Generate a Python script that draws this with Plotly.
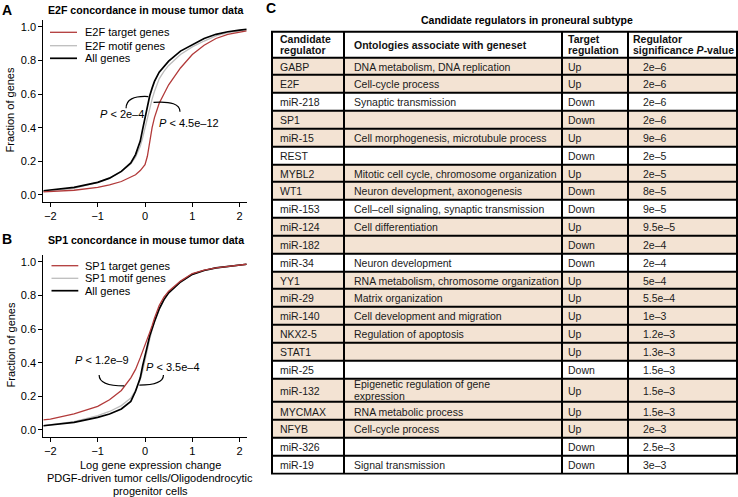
import plotly.graph_objects as go

W, H = 738, 497
FONT = "Liberation Sans, Arial, sans-serif"

# ---------------- data: panels A and B (cumulative fractions) ----------------
x_change = [-2.15, -2.0, -1.5, -1.0, -0.75, -0.5, -0.3, -0.2, -0.1, -0.05, 0.0, 0.05,
            0.1, 0.15, 0.2, 0.3, 0.4, 0.5, 0.75, 1.0, 1.25, 1.5, 1.75, 2.0, 2.15]

e2f_target = [0.018, 0.02, 0.028, 0.045, 0.06, 0.08, 0.105, 0.12, 0.145, 0.16, 0.18, 0.23,
              0.33, 0.40, 0.46, 0.545, 0.60, 0.655, 0.755, 0.835, 0.89, 0.93, 0.955, 0.97, 0.975]
e2f_motif = [0.02, 0.025, 0.04, 0.075, 0.10, 0.14, 0.185, 0.225, 0.29, 0.34, 0.40, 0.46,
             0.52, 0.57, 0.615, 0.69, 0.735, 0.77, 0.835, 0.88, 0.915, 0.945, 0.965, 0.975, 0.98]
e2f_all = [0.025, 0.03, 0.045, 0.075, 0.10, 0.14, 0.19, 0.24, 0.32, 0.39, 0.46, 0.53,
           0.59, 0.635, 0.675, 0.73, 0.765, 0.795, 0.855, 0.895, 0.93, 0.955, 0.97, 0.98, 0.985]

sp1_target = [0.06, 0.065, 0.095, 0.14, 0.18, 0.235, 0.31, 0.36, 0.43, 0.465, 0.51, 0.545,
              0.58, 0.62, 0.665, 0.74, 0.79, 0.825, 0.885, 0.93, 0.95, 0.963, 0.973, 0.98, 0.985]
sp1_motif = [0.025, 0.03, 0.05, 0.085, 0.11, 0.145, 0.19, 0.235, 0.30, 0.35, 0.42, 0.48,
             0.54, 0.595, 0.64, 0.715, 0.77, 0.815, 0.88, 0.925, 0.948, 0.963, 0.973, 0.98, 0.985]
sp1_all = [0.025, 0.03, 0.045, 0.075, 0.095, 0.125, 0.17, 0.23, 0.31, 0.38, 0.45, 0.50,
           0.56, 0.605, 0.645, 0.72, 0.775, 0.815, 0.88, 0.925, 0.948, 0.963, 0.973, 0.98, 0.985]

y_ticks = [0.0, 0.2, 0.4, 0.6, 0.8, 1.0]
x_ticks = [-2, -1, 0, 1, 2]

# ---------------- data: panel C (table) ----------------
table_title = "Candidate regulators in proneural subtype"
header_labels = ["Candidate<br>regulator", "Ontologies associate with geneset",
                 "Target<br>regulation", "Regulator<br>significance <i>P</i>-value"]
regulators = ["GABP", "E2F", "miR-218", "SP1", "miR-15", "REST", "MYBL2", "WT1", "miR-153",
              "miR-124", "miR-182", "miR-34", "YY1", "miR-29", "miR-140", "NKX2-5", "STAT1",
              "miR-25", "miR-132", "MYCMAX", "NFYB", "miR-326", "miR-19"]
ontologies = ["DNA metabolism, DNA replication", "Cell-cycle process", "Synaptic transmission", "",
              "Cell morphogenesis, microtubule process", "",
              "Mitotic cell cycle, chromosome organization", "Neuron development, axonogenesis",
              "Cell\u2013cell signaling, synaptic transmission", "Cell differentiation", "",
              "Neuron development", "RNA metabolism, chromosome organization", "Matrix organization",
              "Cell development and migration", "Regulation of apoptosis", "", "",
              "Epigenetic regulation of gene<br>expression", "RNA metabolic process",
              "Cell-cycle process", "", "Signal transmission"]
regulation = ["Up", "Up", "Down", "Down", "Up", "Down", "Up", "Down", "Down", "Up", "Down", "Down",
              "Up", "Up", "Up", "Up", "Up", "Down", "Up", "Up", "Up", "Down", "Down"]
p_values = ["2e\u20136", "2e\u20136", "2e\u20136", "2e\u20136", "9e\u20136", "2e\u20135", "2e\u20135",
            "8e\u20135", "9e\u20135", "9.5e\u20135", "2e\u20134", "2e\u20134", "5e\u20134", "5.5e\u20134",
            "1e\u20133", "1.2e\u20133", "1.3e\u20133", "1.5e\u20133", "1.5e\u20133", "1.5e\u20133",
            "2e\u20133", "2.5e\u20133", "3e\u20133"]
highlighted = [1, 1, 0, 1, 1, 0, 1, 1, 0, 1, 1, 0, 1, 1, 1, 1, 1, 0, 1, 1, 1, 0, 0]

# ---------------- styles / layout constants ----------------
RED, GREY, BLACK = "#B23A3A", "#BDBDBD", "#000000"
BEIGE = "#F3E3D3"


def pxx(px):
    return px / W


def pxy(py):
    return 1 - py / H


fig = go.Figure()

panels = [
    dict(xa="x", ya="y", target=e2f_target, motif=e2f_motif, all=e2f_all),
    dict(xa="x2", ya="y2", target=sp1_target, motif=sp1_motif, all=sp1_all),
]
for p in panels:
    fig.add_trace(go.Scatter(x=x_change, y=p["motif"], mode="lines", line=dict(color=GREY, width=1.3),
                             xaxis=p["xa"], yaxis=p["ya"], hoverinfo="skip"))
    fig.add_trace(go.Scatter(x=x_change, y=p["all"], mode="lines", line=dict(color=BLACK, width=1.7),
                             xaxis=p["xa"], yaxis=p["ya"], hoverinfo="skip"))
    fig.add_trace(go.Scatter(x=x_change, y=p["target"], mode="lines", line=dict(color=RED, width=1.3),
                             xaxis=p["xa"], yaxis=p["ya"], hoverinfo="skip"))

# ---------------- table (heatmap cells + text) ----------------
col_edges = [272, 344, 562, 628, 737]
header_top, header_h = 31.7, 25.6
row_h, extra_line_h = 17.83, 6.1
line_gap = 11.8
row_edges = [header_top, header_top + header_h]
for o in ontologies:
    n = o.count("<br>") + 1
    row_edges.append(row_edges[-1] + row_h + extra_line_h * (n - 1))

z = [[0, 0, 0, 0]] + [[h, h, h, h] for h in highlighted]
fig.add_trace(go.Heatmap(x=col_edges, y=row_edges, z=z, xaxis="x3", yaxis="y3",
                         colorscale=[[0, "#FFFFFF"], [1, BEIGE]], zmin=0, zmax=1,
                         showscale=False, xgap=2, ygap=2, hoverinfo="skip"))

# header text
hx, hy, ht = [], [], []
head_pad = [8, 10, 6, 5]
hc = header_top + header_h / 2
for j, lab in enumerate(header_labels):
    lines = lab.split("<br>")
    n = len(lines)
    for k, ln in enumerate(lines):
        hx.append(col_edges[j] + head_pad[j])
        hy.append(hc + 1.5 + (k - (n - 1) / 2) * 11)
        ht.append("<b>" + ln + "</b>")
fig.add_trace(go.Scatter(x=hx, y=hy, text=ht, mode="text", textposition="middle right",
                         textfont=dict(family=FONT, size=10.5, color="#111111"),
                         xaxis="x3", yaxis="y3", hoverinfo="skip", cliponaxis=False))

# body text
bx, by, bt = [], [], []
body_pad = [8, 10, 6, 15]
cols = [regulators, ontologies, regulation, p_values]
for i in range(len(regulators)):
    c = (row_edges[i + 1] + row_edges[i + 2]) / 2
    for j, col in enumerate(cols):
        val = col[i]
        if not val:
            continue
        lines = val.split("<br>")
        n = len(lines)
        for k, ln in enumerate(lines):
            bx.append(col_edges[j] + body_pad[j])
            by.append(c + (1.8 if n == 1 else 0.9) + (k - (n - 1) / 2) * line_gap)
            bt.append(ln)
fig.add_trace(go.Scatter(x=bx, y=by, text=bt, mode="text", textposition="middle right",
                         textfont=dict(family=FONT, size=10.5, color="#1a1a1a"),
                         xaxis="x3", yaxis="y3", hoverinfo="skip", cliponaxis=False))

shapes = []
# black backing for the table grid lines
shapes.append(dict(type="rect", xref="x3", yref="y3", x0=col_edges[0] - 1, x1=col_edges[-1] + 1,
                   y0=row_edges[0] - 1, y1=row_edges[-1] + 1, fillcolor="black",
                   line=dict(width=0), layer="below"))

# legends (manual, as in the original)
legend_specs = [
    (["E2F target genes", "E2F motif genes", "All genes"], [32.3, 45.7, 58.3], 50, 77, 82.5),
    (["SP1 target genes", "SP1 motif genes", "All genes"], [265.7, 278.3, 290.7], 51.5, 78.3, 83.3),
]
annotations = []
for names, ys, x0, x1, tx in legend_specs:
    for name, yy, colr, wd in zip(names, ys, [RED, GREY, BLACK], [1.3, 1.3, 1.7]):
        shapes.append(dict(type="line", xref="paper", yref="paper", x0=pxx(x0), x1=pxx(x1),
                           y0=pxy(yy), y1=pxy(yy), line=dict(color=colr, width=wd)))
        annotations.append(dict(text=name, x=pxx(tx), y=pxy(yy), xref="paper", yref="paper",
                                xanchor="left", yanchor="middle", showarrow=False,
                                font=dict(size=11, family=FONT, color="black")))

# curved arrows with p-value labels
arrows = [
    ("x", "y", (-0.40, 0.515), (-0.40, 0.592), (0.07, 0.585)),
    ("x", "y", (0.74, 0.495), (0.74, 0.562), (0.18, 0.55)),
    ("x2", "y2", (-0.97, 0.327), (-0.97, 0.262), (-0.44, 0.262)),
    ("x2", "y2", (0.39, 0.327), (0.39, 0.267), (-0.12, 0.267)),
]
for xa, ya, s, cp, e in arrows:
    shapes.append(dict(type="path", xref=xa, yref=ya,
                       path=f"M {s[0]},{s[1]} Q {cp[0]},{cp[1]} {e[0]},{e[1]}",
                       line=dict(color="black", width=1.2)))
    dx = e[0] - cp[0]
    back = 0.06 if dx > 0 else -0.06
    annotations.append(dict(x=e[0], y=e[1], ax=e[0] - back, ay=e[1], xref=xa, yref=ya,
                            axref=xa, ayref=ya, showarrow=True, arrowhead=2, arrowsize=1.1,
                            arrowwidth=1.2, arrowcolor="black", text="", standoff=0))

p_labels = [
    ("x", "y", -0.495, 0.48, "<i>P</i> &lt; 2e\u20134"),
    ("x", "y", 0.92, 0.43, "<i>P</i> &lt; 4.5e\u201312"),
    ("x2", "y2", -0.91, 0.416, "<i>P</i> &lt; 1.2e\u20139"),
    ("x2", "y2", 0.60, 0.376, "<i>P</i> &lt; 3.5e\u20134"),
]
for xa, ya, xx, yy, t in p_labels:
    annotations.append(dict(text=t, x=xx, y=yy, xref=xa, yref=ya, showarrow=False,
                            font=dict(size=11, family=FONT, color="black")))

# titles, panel letters, axis titles
texts = [
    ("<b>A</b>", 7, 10, 14, "center"),
    ("<b>B</b>", 7, 239, 14, "center"),
    ("<b>C</b>", 271, 8, 14, "center"),
    ("<b>E2F concordance in mouse tumor data</b>", 146, 10, 10.6, "center"),
    ("<b>SP1 concordance in mouse tumor data</b>", 146, 240, 10.6, "center"),
    ("<b>" + table_title + "</b>", 527, 20, 10.5, "center"),
    ("Log gene expression change", 150, 465, 11, "center"),
    ("PDGF-driven tumor cells/Oligodendrocytic", 150, 478, 11, "center"),
    ("progenitor cells", 150, 490.5, 11, "center"),
]
for t, xx, yy, fs, anc in texts:
    annotations.append(dict(text=t, x=pxx(xx), y=pxy(yy), xref="paper", yref="paper",
                            xanchor=anc, yanchor="middle", showarrow=False,
                            font=dict(size=fs, family=FONT, color="black")))
for yy in [110.5, 345.5]:
    annotations.append(dict(text="Fraction of genes", x=pxx(10), y=pxy(yy), xref="paper", yref="paper",
                            xanchor="center", yanchor="middle", textangle=-90, showarrow=False,
                            font=dict(size=11, family=FONT, color="black")))

axis_common = dict(showline=True, linecolor="black", linewidth=1, ticks="outside", ticklen=4,
                   tickwidth=1, tickcolor="black", showgrid=False, zeroline=False, mirror=False,
                   tickfont=dict(size=11, family=FONT, color="black"))
xdom = [pxx(43.3), pxx(246.7)]
fig.update_layout(
    width=W, height=H, margin=dict(l=0, r=0, t=0, b=0),
    paper_bgcolor="white", plot_bgcolor="white", showlegend=False,
    font=dict(family=FONT, size=11, color="black"),
    xaxis=dict(domain=xdom, range=[-2.15, 2.15], tickvals=x_ticks, anchor="y", **axis_common),
    yaxis=dict(domain=[pxy(201.7), pxy(20)], range=[-0.04, 1.04], tickvals=y_ticks,
               tickformat=".1f", anchor="x", **axis_common),
    xaxis2=dict(domain=xdom, range=[-2.15, 2.15], tickvals=x_ticks, anchor="y2", **axis_common),
    yaxis2=dict(domain=[pxy(436.7), pxy(255)], range=[-0.04, 1.04], tickvals=y_ticks,
                tickformat=".1f", anchor="x2", **axis_common),
    xaxis3=dict(domain=[pxx(266), 1.0], range=[266, 738], visible=False, anchor="y3",
                fixedrange=True),
    yaxis3=dict(domain=[pxy(478), pxy(28)], range=[478, 28], visible=False, anchor="x3",
                fixedrange=True),
    shapes=shapes,
    annotations=annotations,
)

fig.write_html("out.html", config={"displayModeBar": False},
               post_script="document.body.style.margin='0px';document.body.style.overflow='hidden';")
